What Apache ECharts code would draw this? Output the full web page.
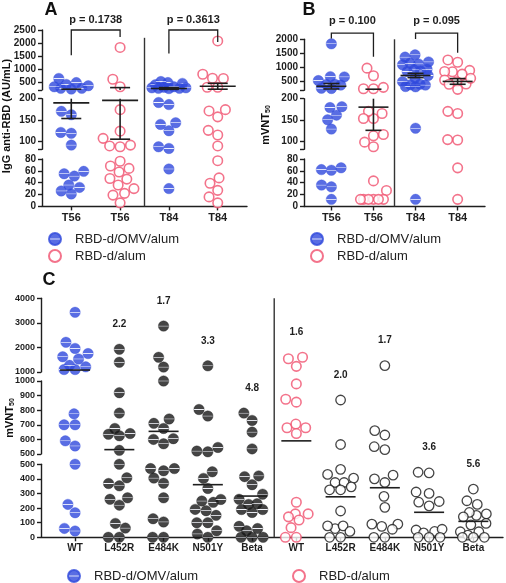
<!DOCTYPE html>
<html><head><meta charset="utf-8">
<script src="https://cdn.jsdelivr.net/npm/echarts@6/dist/echarts.min.js"></script>
<style>html,body{margin:0;padding:0;background:#fff}#c{width:506px;height:583px}</style>
</head><body><div id="c"></div>
<script>
// ---------------- Panel A : IgG anti-RBD (AU/mL) ----------------
const aCategories = ['T56', 'T56', 'T84', 'T84'];
const aOmvT56  = [260, 410, 480, 260, 360, 640, 230, 320, 162, 170, 118, 120, 90, 51, 59, 55, 36, 32, 21, 26];
const aAlumT56 = [1830, 610, 320, 174, 123, 106, 86, 90, 88, 58, 47, 68, 46, 76, 64, 30, 36, 19, 22, 6];
const aOmvT84  = [280, 450, 250, 480, 280, 400, 520, 300, 260, 260, 320, 186, 191, 143, 139, 124, 82, 86, 63, 30];
const aAlumT84 = [2080, 640, 800, 650, 300, 300, 174, 171, 157, 125, 114, 88, 77, 48, 39, 27, 16, 6];
const aMeans = [190, 196, 255, 340];
const aSems  = [37, 92, 32, 113];
const aPLabels = ['p = 0.1738', 'p = 0.3613'];
const aBrackets = [[0, 1, 2500, 1530, 2230], [2, 3, 2500, 1600, 2040]];
const aTicksTop = [200, 500, 1000, 1500, 2000, 2500], aLabelsTop = [500, 1000, 1500, 2000, 2500];
const aTicksMid = [80, 100, 150, 200], aLabelsMid = [100, 150, 200];
const aTicksBot = [0, 20, 40, 60, 80], aLabelsBot = [0, 20, 40, 60, 80];

// ---------------- Panel B : mVNT50 ----------------
const bCategories = ['T56', 'T56', 'T84', 'T84'];
const bOmvT56  = [1840, 680, 670, 540, 410, 400, 380, 270, 260, 179, 181, 150, 161, 128, 61, 65, 62, 33, 36, 12];
const bAlumT56 = [980, 710, 250, 300, 250, 153, 170, 165, 153, 112, 115, 97, 86, 43, 27, 12, 12, 12, 12, 12, 12];
const bOmvT84  = [1450, 1370, 1130, 1200, 1100, 1150, 880, 940, 920, 860, 720, 640, 390, 410, 330, 320, 380, 500, 130, 12];
const bAlumT84 = [1270, 1190, 900, 850, 860, 770, 560, 500, 420, 230, 410, 620, 165, 170, 102, 103, 65, 12];
const bMeans = [340, 180, 720, 510];
const bSems  = [95, 55, 75, 100];
const bPLabels = ['p = 0.100', 'p = 0.095'];
const bBrackets = [[0, 1, 2220, 2030, 1380], [2, 3, 2220, 2015, 1520]];
const bTicksTop = [200, 500, 1000, 1500, 2000], bLabelsTop = [500, 1000, 1500, 2000];
const bTicksMid = [80, 100, 150, 200], bLabelsMid = [100, 150, 200];
const bTicksBot = [0, 20, 40, 60, 80], bLabelsBot = [0, 20, 40, 60, 80];

// ---------------- Panel C : mVNT50 against variants ----------------
const cCategories = ['WT', 'L452R', 'E484K', 'N501Y', 'Beta', 'WT', 'L452R', 'E484K', 'N501Y', 'Beta'];
const cOmvWT    = [3430, 2210, 1960, 1750, 1530, 1620, 1100, 1100, 1210, 1270, 775, 700, 700, 590, 555, 500, 225, 168, 43, 61];
const cOmvL452R = [1925, 1395, 920, 780, 640, 625, 635, 675, 525, 500, 407, 368, 352, 260, 270, 220, 63, 95, 0, 0];
const cOmvE484K = [2870, 1600, 1200, 1000, 710, 740, 675, 605, 570, 600, 470, 455, 470, 405, 370, 270, 105, 127, 0, 0];
const cOmvN501Y = [1250, 805, 760, 515, 545, 520, 448, 403, 334, 239, 248, 259, 191, 182, 150, 100, 100, 45, 23, 0];
const cOmvBeta  = [780, 730, 650, 535, 415, 420, 360, 295, 260, 225, 230, 190, 190, 170, 60, 45, 75, 0, 0, 0];
const cAlumWT    = [1600, 1540, 1230, 980, 875, 855, 680, 680, 705, 640, 240, 160, 160, 140, 118, 66, 0, 0];
const cAlumL452R = [870, 565, 405, 430, 465, 375, 375, 345, 325, 325, 180, 60, 78, 78, 40, 0, 0];
const cAlumE484K = [1260, 660, 630, 550, 530, 400, 425, 375, 280, 205, 90, 75, 90, 55, 0, 0];
const cAlumN501Y = [440, 445, 300, 310, 245, 215, 240, 50, 40, 55, 30, 0, 0, 0];
const cAlumBeta  = [330, 250, 225, 150, 160, 170, 140, 95, 85, 38, 38, 15, 0, 0, 0];
const cMeans = [1080, 530, 655, 360, 282, 590, 277, 339, 171, 109];
const cFoldLabels = ['', '2.2', '1.7', '3.3', '4.8', '1.6', '2.0', '1.7', '3.6', '5.6'];
const cTicksTop = [1000, 2000, 3000, 4000];
const cTicksMid = [500, 600, 700, 800, 900, 1000];
const cTicksBot = [0, 100, 200, 300, 400, 500];

const legendNames = ['RBD-d/OMV/alum', 'RBD-d/alum'];

// ---------------- styling / layout ----------------
const FONT = '"Liberation Sans", Arial, Helvetica, sans-serif';
const BLUE = '#2f48dc', RED = '#f0506e', BLACK = '#161616', AXIS = '#1e1e1e';
function stripe(c) {
  return new echarts.graphic.LinearGradient(0, 0, 0, 1, [
    { offset: 0, color: c }, { offset: 0.44, color: c }, { offset: 0.5, color: '#f4f6ff' },
    { offset: 0.56, color: c }, { offset: 1, color: c }]);
}
const STYLES = {
  omv:  { name: legendNames[0], size: 10.5, itemStyle: { color: stripe(BLUE), borderColor: BLUE, borderWidth: 0.4 } },
  alum: { name: legendNames[1], size: 9.5, itemStyle: { color: '#ffffff', borderColor: RED, borderWidth: 1.6 } },
  varOmv:  { name: 'variant-omv', size: 10.5, itemStyle: { color: stripe(BLACK), borderColor: BLACK, borderWidth: 0.4 } },
  varAlum: { name: 'variant-alum', size: 9.5, itemStyle: { color: '#ffffff', borderColor: BLACK, borderWidth: 1.3 } }
};

const panels = [
  { cats: aCategories, groups: [aOmvT56, aAlumT56, aOmvT84, aAlumT84], styles: ['omv', 'alum', 'omv', 'alum'],
    means: aMeans, sems: aSems, left: 42, width: 205, xMin: -0.6, xMax: 3.6,
    halfMean: 18, halfCap: 10, spread: 17, dist: 10.5, xFont: 11, yFont: 10,
    divider: { x: 1.5, from: 2200 }, brackets: aBrackets, pLabels: aPLabels, pGap: 10,
    segs: [
      { min: 200, max: 2500, top: 30, bottom: 89.9, ticks: aTicksTop, labels: aLabelsTop },
      { min: 80, max: 200, top: 98.7, bottom: 149.3, ticks: aTicksMid, labels: aLabelsMid },
      { min: 0, max: 80, top: 158.9, bottom: 206.4, ticks: aTicksBot, labels: aLabelsBot }] },
  { cats: bCategories, groups: [bOmvT56, bAlumT56, bOmvT84, bAlumT84], styles: ['omv', 'alum', 'omv', 'alum'],
    means: bMeans, sems: bSems, left: 304, width: 181, xMin: -0.65, xMax: 3.65,
    halfMean: 15, halfCap: 8, spread: 13, dist: 10, xFont: 11, yFont: 10,
    divider: { x: 1.5, from: 2000 }, brackets: bBrackets, pLabels: bPLabels, pGap: 12,
    segs: [
      { min: 200, max: 2000, top: 39.3, bottom: 90.2, ticks: bTicksTop, labels: bLabelsTop },
      { min: 80, max: 200, top: 98.7, bottom: 149.3, ticks: bTicksMid, labels: bLabelsMid },
      { min: 0, max: 80, top: 158.9, bottom: 206.5, ticks: bTicksBot, labels: bLabelsBot }] },
  { cats: cCategories,
    groups: [cOmvWT, cOmvL452R, cOmvE484K, cOmvN501Y, cOmvBeta, cAlumWT, cAlumL452R, cAlumE484K, cAlumN501Y, cAlumBeta],
    styles: ['omv', 'varOmv', 'varOmv', 'varOmv', 'varOmv', 'alum', 'varAlum', 'varAlum', 'varAlum', 'varAlum'],
    means: cMeans, sems: null, left: 41, width: 462, xMin: -0.77, xMax: 9.67,
    halfMean: 15, halfCap: 0, spread: 13, dist: 11, xFont: 10, yFont: 9,
    divider: { x: 4.5, from: 4000 }, foldLabels: cFoldLabels, foldGap: 25,
    segs: [
      { min: 1000, max: 4000, top: 298.3, bottom: 372, ticks: cTicksTop, labels: cTicksTop },
      { min: 500, max: 1000, top: 381, bottom: 454, ticks: cTicksMid, labels: cTicksMid },
      { min: 0, max: 500, top: 464.2, bottom: 537.3, ticks: cTicksBot, labels: cTicksBot }] }
];

function segOf(p, v) {
  for (let s = p.segs.length - 1; s >= 0; s--) if (v <= p.segs[s].max) return s;
  return 0;
}

// ---------------- base option: grids & axes ----------------
const grids = [], xAxes = [], yAxes = [];
panels.forEach(p => {
  p.base = grids.length;
  p.segs.forEach((s, si) => {
    const isBottom = si === p.segs.length - 1;
    grids.push({ left: p.left, top: s.top, width: p.width, height: s.bottom - s.top, containLabel: false, outerBoundsMode: 'none' });
    const gi = grids.length - 1;
    const idx = p.cats.map((c, i) => i);
    xAxes.push({
      gridIndex: gi, type: 'value', min: p.xMin, max: p.xMax, show: isBottom,
      axisLine: { show: true, onZero: false, lineStyle: { color: AXIS, width: 1.4 } },
      axisTick: { show: true, customValues: idx, length: 4, lineStyle: { color: AXIS, width: 1.4 } },
      axisLabel: { customValues: idx, formatter: v => p.cats[Math.round(v)], fontSize: p.xFont, fontWeight: 'bold',
        fontFamily: FONT, color: AXIS, margin: 6 },
      splitLine: { show: false }
    });
    yAxes.push({
      gridIndex: gi, type: 'value', min: s.min, max: s.max,
      axisLine: { show: true, onZero: false, lineStyle: { color: AXIS, width: 1.4 } },
      axisTick: { show: true, customValues: s.ticks, length: 4, lineStyle: { color: AXIS, width: 1.4 } },
      axisLabel: { customValues: s.labels, formatter: v => String(v), fontSize: p.yFont, fontWeight: 'bold',
        fontFamily: FONT, color: AXIS, margin: 6 },
      splitLine: { show: false }
    });
  });
});

const chart = echarts.init(document.getElementById('c'), null, { renderer: 'canvas', width: 506, height: 583 });
chart.setOption({ animation: false, backgroundColor: '#ffffff', grid: grids, xAxis: xAxes, yAxis: yAxes });

// ---------------- beeswarm layout (pixel space) ----------------
function swarm(ys, d, maxS) {
  const order = ys.map((_, i) => i).sort((a, b) => ys[b] - ys[a] || a - b);
  const placed = [], offs = new Array(ys.length).fill(0);
  const ok = (x, y) => placed.every(q => (q.x - x) ** 2 + (q.y - y) ** 2 >= d * d - 1e-3);
  for (const i of order) {
    const y = ys[i];
    let cands = [0];
    placed.forEach(q => {
      const dy = Math.abs(q.y - y);
      if (dy < d) { const dx = Math.sqrt(d * d - dy * dy); cands.push(q.x + dx, q.x - dx); }
    });
    cands = cands.filter(c => Math.abs(c) <= maxS + 1e-6).sort((a, b) => Math.abs(a) - Math.abs(b) || a - b);
    let best = cands.find(c => ok(c, y));
    if (best === undefined) {
      let bestScore = -1;
      for (let c = -maxS; c <= maxS + 1e-9; c += 0.5) {
        const sc = Math.min(...placed.map(q => Math.hypot(q.x - c, q.y - y)));
        if (sc > bestScore + 1e-9) { bestScore = sc; best = c; }
      }
    }
    offs[i] = best; placed.push({ x: best, y });
  }
  return offs;
}

// ---------------- series ----------------
const series = [];
const graphics = [];
panels.forEach(p => {
  const buckets = {};
  const pxUnit = chart.convertToPixel({ gridIndex: p.base }, [1, 0])[0] - chart.convertToPixel({ gridIndex: p.base }, [0, 0])[0];
  p.groups.forEach((vals, g) => {
    const segs = vals.map(v => segOf(p, v));
    const ys = vals.map((v, i) => chart.convertToPixel({ gridIndex: p.base + segs[i] }, [g, v])[1]);
    const offs = swarm(ys, p.dist, p.spread);
    vals.forEach((v, i) => {
      const key = p.styles[g] + '|' + segs[i];
      (buckets[key] = buckets[key] || []).push([g + offs[i] / pxUnit, v]);
    });
  });
  Object.keys(buckets).forEach(key => {
    const [st, si] = key.split('|');
    const S = STYLES[st], gi = p.base + (+si);
    series.push({ type: 'scatter', name: S.name, xAxisIndex: gi, yAxisIndex: gi, data: buckets[key],
      symbol: 'circle', symbolSize: S.size, itemStyle: S.itemStyle, z: 3, silent: true });
  });

  // mean / SEM lines per segment
  p.segs.forEach((seg, si) => {
    const gi = p.base + si;
    series.push({
      type: 'custom', xAxisIndex: gi, yAxisIndex: gi, z: 5, silent: true,
      data: p.means.map((m, g) => [g, m, p.sems ? p.sems[g] : 0]),
      renderItem: (params, api) => {
        const x = api.value(0), m = api.value(1), s = api.value(2);
        const st = { stroke: AXIS, lineWidth: 1.6 };
        const kids = [];
        const inSeg = v => v >= seg.min && v <= seg.max;
        if (inSeg(m)) {
          const c = api.coord([x, m]);
          kids.push({ type: 'line', shape: { x1: c[0] - p.halfMean, y1: c[1], x2: c[0] + p.halfMean, y2: c[1] }, style: st });
        }
        if (s > 0) {
          const lo = m - s, hi = m + s;
          const a = Math.max(lo, seg.min), b = Math.min(hi, seg.max);
          if (a < b) {
            const c1 = api.coord([x, a]), c2 = api.coord([x, b]);
            kids.push({ type: 'line', shape: { x1: c1[0], y1: c1[1], x2: c2[0], y2: c2[1] }, style: st });
          }
          [lo, hi].forEach(v => {
            if (inSeg(v)) {
              const c = api.coord([x, v]);
              kids.push({ type: 'line', shape: { x1: c[0] - p.halfCap, y1: c[1], x2: c[0] + p.halfCap, y2: c[1] }, style: st });
            }
          });
        }
        return { type: 'group', children: kids };
      }
    });
  });

  // significance brackets (top segment)
  if (p.brackets) {
    series.push({
      type: 'custom', xAxisIndex: p.base, yAxisIndex: p.base, z: 5, silent: true, clip: false,
      data: p.brackets,
      renderItem: (params, api) => {
        const x1 = api.value(0), x2 = api.value(1), yt = api.value(2), yl = api.value(3), yr = api.value(4);
        const a = api.coord([x1, yl]), b = api.coord([x1, yt]), c = api.coord([x2, yt]), d = api.coord([x2, yr]);
        return { type: 'group', children: [
          { type: 'polyline', shape: { points: [a, b, c, d] }, style: { stroke: AXIS, lineWidth: 1.3, fill: null } },
          { type: 'text', x: (b[0] + c[0]) / 2, y: b[1] - p.pGap,
            style: { text: p.pLabels[params.dataIndex], fill: AXIS, fontSize: 11, fontWeight: 'bold', fontFamily: FONT,
              align: 'center', verticalAlign: 'middle' } }
        ] };
      }
    });
  }

  // fold-change labels above each group (panel C)
  if (p.foldLabels) {
    p.segs.forEach((seg, si) => {
      const gi = p.base + si;
      series.push({
        type: 'custom', xAxisIndex: gi, yAxisIndex: gi, z: 5, silent: true, clip: false,
        data: p.groups.map((vals, g) => [g, Math.max(...vals)]),
        renderItem: (params, api) => {
          const g = api.value(0), top = api.value(1);
          const txt = p.foldLabels[params.dataIndex];
          if (!txt || segOf(p, top) !== si) return { type: 'group', children: [] };
          const c = api.coord([g, top]);
          return { type: 'text', x: c[0], y: c[1] - p.foldGap,
            style: { text: txt, fill: AXIS, fontSize: 10, fontWeight: 'bold', fontFamily: FONT, align: 'center', verticalAlign: 'middle' } };
        }
      });
    });
  }

  // vertical divider between the two groups
  const topPt = chart.convertToPixel({ gridIndex: p.base }, [p.divider.x, p.divider.from]);
  const botPt = chart.convertToPixel({ gridIndex: p.base + p.segs.length - 1 }, [p.divider.x, p.segs[p.segs.length - 1].min]);
  graphics.push({ type: 'line', shape: { x1: topPt[0], y1: topPt[1], x2: botPt[0], y2: botPt[1] },
    style: { stroke: '#333', lineWidth: 1.4 }, z: 2, silent: true });
});

// panel letters and axis titles
const letterStyle = { fill: '#111', fontSize: 18, fontWeight: 'bold', fontFamily: FONT, align: 'center', verticalAlign: 'middle' };
graphics.push({ type: 'text', x: 51, y: 10, style: Object.assign({ text: 'A' }, letterStyle) });
graphics.push({ type: 'text', x: 309, y: 10, style: Object.assign({ text: 'B' }, letterStyle) });
graphics.push({ type: 'text', x: 49, y: 280, style: Object.assign({ text: 'C' }, letterStyle) });
const titleStyle = { fill: '#111', fontSize: 11, fontWeight: 'bold', fontFamily: FONT, align: 'center', verticalAlign: 'middle' };
graphics.push({ type: 'text', x: 7, y: 116, rotation: Math.PI / 2, style: Object.assign({ text: 'IgG anti-RBD (AU/mL)' }, titleStyle) });
const vntStyle = Object.assign({ text: 'mVNT{s|50}', rich: { s: { fontSize: 7, fontWeight: 'bold', fontFamily: FONT, fill: '#111', verticalAlign: 'bottom', padding: [4, 0, 0, 0] } } }, titleStyle);
graphics.push({ type: 'text', x: 266, y: 125, rotation: Math.PI / 2, style: Object.assign({}, vntStyle) });
graphics.push({ type: 'text', x: 10, y: 418, rotation: Math.PI / 2, style: Object.assign({}, vntStyle) });

const legendBase = { orient: 'vertical', itemWidth: 30, itemHeight: 12, itemGap: 3, selectedMode: false,
  textStyle: { fontSize: 13, color: '#222', fontFamily: FONT } };
chart.setOption({
  series: series,
  graphic: graphics,
  legend: [
    Object.assign({ left: 43, top: 227, data: legendNames.map(n => ({ name: n, icon: 'circle' })) }, legendBase),
    Object.assign({ left: 305, top: 227, data: legendNames.map(n => ({ name: n, icon: 'circle' })) }, legendBase),
    Object.assign({ left: 62, top: 564, data: [{ name: legendNames[0], icon: 'circle' }] }, legendBase),
    Object.assign({ left: 287, top: 564, data: [{ name: legendNames[1], icon: 'circle' }] }, legendBase)
  ]
});
</script>
</body></html>
